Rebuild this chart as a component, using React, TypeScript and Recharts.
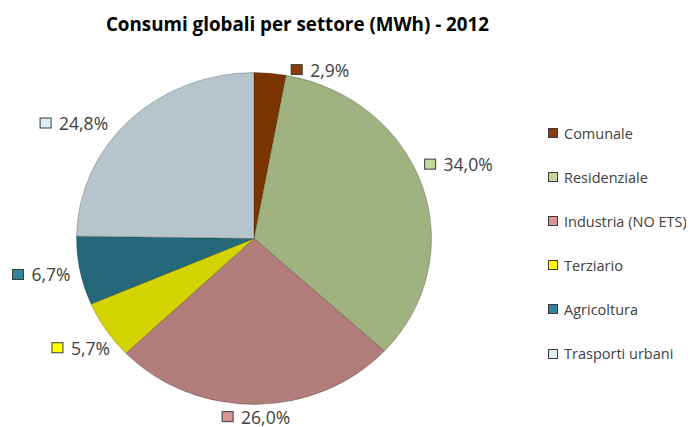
import React from 'react';
import { PieChart, Pie, Cell, Legend, Sector } from 'recharts';

const CATEGORIES = ['Comunale', 'Residenziale', 'Industria (NO ETS)', 'Terziario', 'Agricoltura', 'Trasporti urbani'];
const VALUES = [2.9, 34.0, 26.0, 5.7, 6.7, 24.8];
const LABELS = ['2,9%', '34,0%', '26,0%', '5,7%', '6,7%', '24,8%'];
const TITLE = 'Consumi globali per settore (MWh) - 2012';

const SLICE_COLORS = ['#7B3500', '#9FB27F', '#B27C7B', '#D3D300', '#25687A', '#B6C4CB'];
const KEY_COLORS = ['#8E3B0B', '#C4D79B', '#D99694', '#FFFF00', '#31859C', '#DBEEF4'];
const LABEL_NUDGES = [[48, 15], [17, -16], [0, -6.5], [-8.7, 7.2], [-19, 0], [-41.5, 16]];

const data = CATEGORIES.map((name, i) => ({ name, value: VALUES[i] }));

const K = 0.935; // vertical squash of the pie (stretched image)
const FONT = '"Open Sans", "Liberation Sans", sans-serif';

const EllipseSector = (props: any) => {
  const { cy } = props;
  return (
    <g transform={`translate(0 ${cy * (1 - K)}) scale(1 ${K})`}>
      <Sector {...props} />
    </g>
  );
};

const renderLabel = (props: any) => {
  const { cx, cy, midAngle, outerRadius, index } = props;
  const rad = Math.PI / 180;
  const r = outerRadius + 20;
  const nudge = LABEL_NUDGES[index];
  const x = cx + r * Math.cos(-midAngle * rad) + nudge[0];
  const y = cy + K * r * Math.sin(-midAngle * rad) + nudge[1];
  const text = LABELS[index];
  const w = 19 + text.length * 10 - 1.5;
  const left = x - w / 2;
  return (
    <g key={`lbl-${index}`}>
      <rect x={left} y={y - 5} width={11} height={10} fill={KEY_COLORS[index]} stroke="#3a3a3a" strokeWidth={1} />
      <text x={left + 19} y={y} dominantBaseline="central" fontFamily={FONT} fontSize={17.5} fill="#404040">
        {text}
      </text>
    </g>
  );
};

const LegendContent = () => (
  <div style={{ fontFamily: FONT, fontSize: 14.5, color: '#404040' }}>
    {CATEGORIES.map((c, i) => (
      <div key={c} style={{ height: 44.1, display: 'flex', alignItems: 'center', whiteSpace: 'nowrap' }}>
        <span
          style={{
            display: 'inline-block',
            width: 8,
            height: 8,
            background: KEY_COLORS[i],
            border: '1px solid #3a3a3a',
            marginRight: 6,
          }}
        />
        <span>{c}</span>
      </div>
    ))}
  </div>
);

export default function App() {
  return (
    <div style={{ position: 'relative', width: 686, height: 419 }}>
      <div
        style={{
          position: 'absolute',
          left: 0,
          top: 0,
          width: 579,
          textAlign: 'center',
          fontFamily: FONT,
          fontWeight: 700,
          fontSize: 18.8,
          color: '#000',
          lineHeight: '30px',
          paddingTop: 1,
        }}
      >
        {TITLE}
      </div>
      <PieChart width={686} height={419} margin={{ top: 0, right: 0, bottom: 0, left: 0 }} style={{ overflow: 'visible' }}>
        <Pie
          data={data}
          dataKey="value"
          nameKey="name"
          cx={246}
          cy={230.5}
          outerRadius={177.5}
          startAngle={90}
          endAngle={-270}
          isAnimationActive={false}
          labelLine={false}
          label={renderLabel}
          shape={EllipseSector}
          stroke="rgba(0,0,0,0.3)"
          strokeWidth={0.75}
        >
          {data.map((d, i) => (
            <Cell key={d.name} fill={SLICE_COLORS[i]} />
          ))}
        </Pie>
        <Legend
          layout="vertical"
          align="right"
          verticalAlign="top"
          content={<LegendContent />}
          wrapperStyle={{ left: 540, top: 103, width: 150 }}
        />
      </PieChart>
    </div>
  );
}
